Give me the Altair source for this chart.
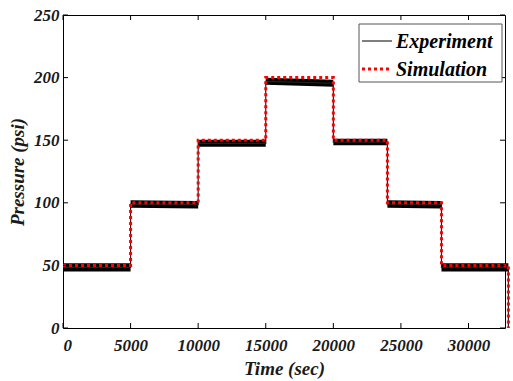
import altair as alt
import pandas as pd

# Step schedule (sec) and pressure levels (psi)
step_times = [0, 5000, 10000, 15000, 20000, 24000, 28000, 32950]
sim_levels = [50, 100, 150, 200, 150, 100, 50]
# Measured plateau levels at start / end of each step
exp_start = [48.5, 99.0, 147.5, 197.0, 148.5, 99.0, 48.5]
exp_end = [48.5, 98.5, 147.5, 195.5, 148.5, 98.5, 48.5]
exp_spread = [3.3, 3.0, 2.8, 2.8, 2.6, 3.0, 3.3]   # half-width of sensor noise band

series = ["Experiment", "Simulation"]
x_ticks = [0, 5000, 10000, 15000, 20000, 25000, 30000]
y_ticks = [0, 50, 100, 150, 200, 250]

FONT = "Liberation Serif"
W, H = 442, 313

# Step-shaped traces
sim_rows, exp_rows, band_rows = [], [], []
for i, lvl in enumerate(sim_levels):
    t0, t1 = step_times[i], step_times[i + 1]
    sim_rows += [{"time": t0, "pressure": lvl, "o": 2 * i}, {"time": t1, "pressure": lvl, "o": 2 * i + 1}]
    exp_rows += [{"time": t0, "pressure": exp_start[i], "o": 2 * i},
                 {"time": t1, "pressure": exp_end[i], "o": 2 * i + 1}]
    band_rows += [{"time": t0, "lo": exp_start[i] - exp_spread[i], "hi": exp_start[i] + exp_spread[i], "seg": i},
                  {"time": t1, "lo": exp_end[i] - exp_spread[i], "hi": exp_end[i] + exp_spread[i], "seg": i}]
sim_rows.append({"time": step_times[-1], "pressure": 0, "o": 99})
exp_rows.append({"time": step_times[-1], "pressure": 0, "o": 99})

sim_df = pd.DataFrame(sim_rows)
exp_df = pd.DataFrame(exp_rows)
band_df = pd.DataFrame(band_rows)

xscale = alt.Scale(domain=[0, 32700], nice=False, zero=False)
yscale = alt.Scale(domain=[0, 250], nice=False)

x_axis = alt.Axis(values=x_ticks, ticks=False, tickSize=0, domain=False, grid=False,
                  labelPadding=9, title="Time (sec)", titlePadding=6, format="d")
y_axis = alt.Axis(values=y_ticks, ticks=False, tickSize=0, domain=False, grid=False,
                  labelPadding=4, title="Pressure (psi)", titlePadding=6, format="d")

band = alt.Chart(band_df).mark_area(color="black", opacity=1).encode(
    x=alt.X("time:Q", scale=xscale, axis=x_axis),
    y=alt.Y("lo:Q", scale=yscale, axis=y_axis),
    y2="hi:Q",
    detail="seg:N",
)

exp_line = alt.Chart(exp_df).mark_line(color="#222222", strokeWidth=1.2).encode(
    x=alt.X("time:Q", scale=xscale),
    y=alt.Y("pressure:Q", scale=yscale),
    order="o:Q",
)

sim_line = alt.Chart(sim_df).mark_line(color="#ff0000", strokeWidth=3, strokeDash=[3, 3]).encode(
    x=alt.X("time:Q", scale=xscale),
    y=alt.Y("pressure:Q", scale=yscale),
    order="o:Q",
)

xt = pd.DataFrame({"time": x_ticks})
yt = pd.DataFrame({"pressure": y_ticks})
tick_bottom = alt.Chart(xt).mark_rule(color="black", strokeWidth=1).encode(
    x=alt.X("time:Q", scale=xscale), y=alt.value(H), y2=alt.value(H - 5))
tick_top = alt.Chart(xt).mark_rule(color="black", strokeWidth=1).encode(
    x=alt.X("time:Q", scale=xscale), y=alt.value(0), y2=alt.value(5))
tick_left = alt.Chart(yt).mark_rule(color="black", strokeWidth=1).encode(
    y=alt.Y("pressure:Q", scale=yscale), x=alt.value(0), x2=alt.value(5))
tick_right = alt.Chart(yt).mark_rule(color="black", strokeWidth=1).encode(
    y=alt.Y("pressure:Q", scale=yscale), x=alt.value(W), x2=alt.value(W - 5))

# Legend box in the upper-right corner
leg_df = pd.DataFrame({"label": series})
leg_box = alt.Chart(leg_df.head(1)).mark_rect(fill="white", stroke="#555555", strokeWidth=1).encode(
    x=alt.value(296), x2=alt.value(439), y=alt.value(9), y2=alt.value(67))
leg_exp_sym = alt.Chart(leg_df.head(1)).mark_rule(color="#555555", strokeWidth=1.5).encode(
    x=alt.value(299), x2=alt.value(329), y=alt.value(26))
leg_sim_sym = alt.Chart(leg_df.head(1)).mark_rule(color="#ff0000", strokeWidth=3, strokeDash=[3, 3]).encode(
    x=alt.value(299), x2=alt.value(328), y=alt.value(54))
leg_exp_txt = alt.Chart(leg_df.iloc[[0]]).mark_text(
    font=FONT, fontSize=20, fontStyle="italic", fontWeight="bold", align="left", baseline="middle", color="black"
).encode(x=alt.value(333), y=alt.value(27), text="label:N")
leg_sim_txt = alt.Chart(leg_df.iloc[[1]]).mark_text(
    font=FONT, fontSize=20, fontStyle="italic", fontWeight="bold", align="left", baseline="middle", color="black"
).encode(x=alt.value(333), y=alt.value(55), text="label:N")

chart = alt.layer(
    band, exp_line, sim_line,
    tick_bottom, tick_top, tick_left, tick_right,
    leg_box, leg_exp_sym, leg_sim_sym, leg_exp_txt, leg_sim_txt,
).properties(
    width=W, height=H,
    autosize=alt.AutoSizeParams(type="none"),
    padding={"left": 63, "top": 15, "right": 8, "bottom": 53},
    background="white",
).configure_view(
    stroke="black", strokeWidth=1
).configure_axis(
    labelFont=FONT, labelFontSize=17, labelFontStyle="italic", labelFontWeight="bold", labelColor="#1a1a1a",
    titleFont=FONT, titleFontSize=19, titleFontStyle="italic", titleFontWeight="bold", titleColor="#1a1a1a",
)

chart.save("out.html", embed_options={"renderer": "svg", "actions": False})
